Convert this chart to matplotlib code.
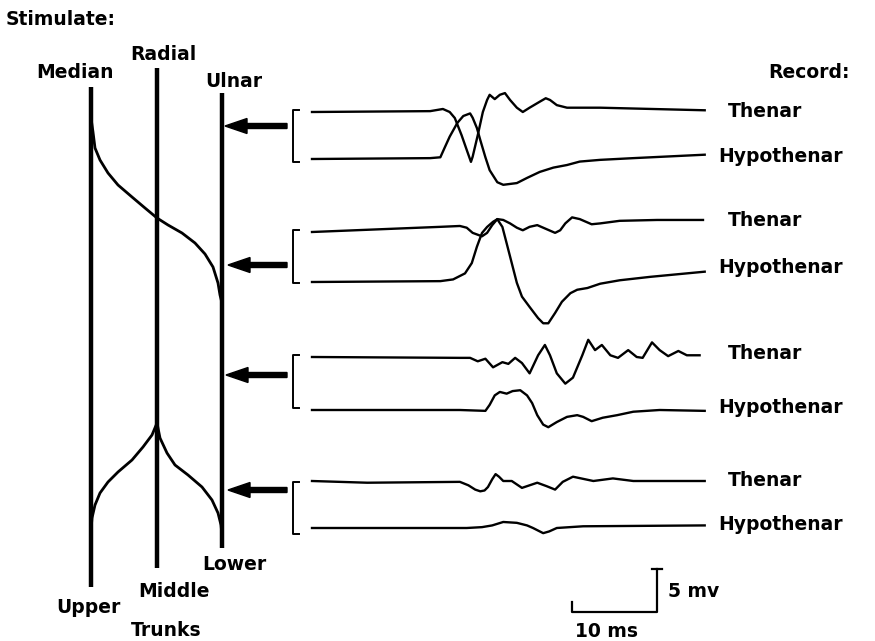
import numpy as np
import matplotlib.pyplot as plt

# Nerve diagram (left): pixel positions of the three cords
nerve_names = ["Median", "Radial", "Ulnar"]
nerve_x = [91, 157, 222]
nerve_top = [87, 68, 93]
nerve_bottom = [587, 568, 548]

# upper trunk fibres crossing from median to ulnar
s_curve_x = [91, 92, 93, 95, 100, 108, 118, 132, 145, 157, 168, 182, 195, 205, 213, 218, 220, 222]
s_curve_y = [118, 125, 132, 148, 160, 173, 185, 197, 208, 218, 225, 233, 243, 254, 267, 283, 295, 303]
# lower branches leaving the radial cord
left_branch_x = [157, 152, 143, 132, 118, 108, 100, 95, 92, 91]
left_branch_y = [423, 435, 447, 460, 472, 482, 493, 505, 518, 530]
right_branch_x = [157, 160, 167, 175, 188, 202, 212, 218, 221, 222]
right_branch_y = [423, 438, 453, 465, 475, 487, 500, 513, 525, 535]

# stimulation arrows (tip x, y)
arrow_tip_x = [225, 228, 226, 228]
arrow_y = [126, 265, 375, 490]

# recording brackets (top, bottom)
bracket_top = [110, 230, 355, 482]
bracket_bottom = [162, 283, 408, 534]

# Recorded traces: time (ms) and amplitude (mV)
th1_t = [0, 13.9, 15.4, 16.2, 16.8, 17.6, 18.2, 18.7, 18.9, 19.5, 20.1, 20.6, 20.9, 21.5, 22.1, 22.7,
         23.3, 24.1, 24.8, 25.6, 26.8, 27.5, 28.0, 28.8, 30.0, 33.9, 46.2]
th1_v = [0, 0.1, 0.35, 0, -0.7, -2.7, -4.4, -5.8, -5.2, -2.7, 0, 1.4, 2.0, 1.5, 2.0, 2.2,
         1.4, 0.5, 0, 0.5, 1.2, 1.6, 1.4, 0.8, 0.5, 0.5, 0.2]
hy1_t = [0, 13.9, 15.1, 15.6, 16.2, 17.1, 17.8, 18.6, 18.9, 19.4, 19.8, 20.4, 20.9, 21.8, 22.5,
         24.1, 25.3, 26.8, 28.4, 30.0, 31.5, 33.9, 37.8, 46.2]
hy1_v = [0, 0.1, 0.2, 1.3, 2.6, 4.2, 5.0, 5.3, 4.8, 3.6, 2.2, 0.2, -1.3, -2.7, -3.0,
         -2.8, -2.2, -1.5, -1.0, -0.7, -0.3, -0.1, 0.1, 0.5]

th2_t = [0, 15.1, 17.4, 18.2, 18.9, 20.0, 20.6, 21.2, 21.8, 22.5, 23.3, 24.1, 24.8, 25.6, 26.5,
         27.2, 28.6, 29.2, 29.8, 30.6, 31.5, 32.9, 33.9, 36.2, 40.6, 46.0]
th2_v = [0, 0.6, 0.7, 0.5, -0.1, -0.5, -0.1, 0.8, 1.5, 1.4, 1.0, 0.5, 0.2, 0.6, 0.8,
         0.5, -0.1, 0.2, 1.0, 1.7, 1.5, 0.9, 1.0, 1.3, 1.4, 1.4]
hy2_t = [0, 15.1, 16.6, 18.0, 18.8, 19.4, 20.0, 20.6, 21.3, 21.8, 22.4, 22.9, 23.5, 24.1, 24.7,
         25.6, 26.6, 27.2, 27.8, 28.6, 29.4, 30.4, 31.2, 32.4, 33.9, 36.2, 39.8, 46.2]
hy2_v = [0, 0.1, 0.3, 1.0, 2.2, 4.1, 5.7, 6.4, 7.0, 7.3, 6.4, 4.5, 2.2, -0.1, -1.7,
         -2.9, -4.2, -4.8, -4.8, -3.6, -2.3, -1.3, -0.9, -0.7, -0.2, 0.2, 0.6, 1.2]

th3_t = [0, 17.4, 18.6, 19.5, 20.4, 21.3, 22.4, 23.1, 23.9, 24.7, 25.6, 26.6, 27.4, 28.0, 28.8,
         29.8, 30.7, 31.8, 32.5, 33.3, 34.1, 35.1, 36.0, 37.2, 38.2, 38.9, 40.0, 40.9, 41.9,
         43.1, 44.1, 45.6]
th3_v = [0, -0.1, -0.1, -0.5, -0.2, -1.2, -0.6, -0.8, -0.1, -0.7, -1.9, 0.2, 1.4, 0.2, -1.9,
         -3.1, -2.4, 0.2, 2.0, 0.8, 1.4, 0.2, -0.1, 0.8, 0, -0.1, 1.7, 0.8, 0.1,
         0.7, 0.2, 0.2]
hy3_t = [0, 17.4, 20.4, 20.9, 21.5, 22.1, 22.9, 23.6, 24.5, 25.3, 25.9, 26.5, 27.2, 27.8, 28.8,
         30.0, 31.2, 31.9, 32.9, 34.2, 35.9, 37.8, 40.9, 46.2]
hy3_v = [0, 0, -0.1, 0.6, 1.7, 2.1, 1.9, 2.2, 2.3, 1.7, 0.8, -0.6, -1.7, -2.0, -1.4,
         -0.8, -0.6, -0.8, -1.3, -0.9, -0.6, -0.2, 0, -0.1]

th4_t = [0, 6.5, 17.4, 18.4, 19.2, 19.8, 20.3, 20.7, 21.2, 21.6, 22.0, 22.5, 23.5, 24.1, 24.7,
         25.6, 26.5, 27.6, 28.6, 29.0, 29.5, 30.7, 33.1, 35.4, 37.8, 46.2]
th4_v = [0, -0.2, -0.1, -0.5, -1.0, -1.2, -1.1, -0.7, 0.2, 0.8, 0.5, 0, 0, -0.4, -0.8,
         -0.5, -0.2, -0.6, -1.0, -0.6, -0.1, 0.5, 0, 0.3, 0, 0]
hy4_t = [0, 18.2, 20.0, 21.2, 22.5, 24.1, 25.3, 26.0, 26.6, 27.2, 27.9, 28.8, 31.9, 46.2]
hy4_v = [0, 0, 0.1, 0.3, 0.7, 0.6, 0.3, 0, -0.3, -0.6, -0.4, 0, 0.2, 0.3]

thenar_traces = [(th1_t, th1_v), (th2_t, th2_v), (th3_t, th3_v), (th4_t, th4_v)]
hypo_traces = [(hy1_t, hy1_v), (hy2_t, hy2_v), (hy3_t, hy3_v), (hy4_t, hy4_v)]
thenar_base = [112, 232, 357, 481]
hypo_base = [159, 282, 410, 528]
thenar_label_y = [117, 226, 359, 486]
hypo_label_y = [162, 273, 413, 530]

# scale: pixels per ms and per mV
trace_x0 = 312
px_per_ms = 8.5
px_per_mv = 8.6

fig = plt.figure(figsize=(8.75, 6.41), dpi=100)
ax = fig.add_axes([0, 0, 1, 1])
ax.set_xlim(0, 875)
ax.set_ylim(641, 0)
ax.axis("off")

font = dict(family="DejaVu Sans", fontweight="bold", fontsize=13.5, color="black")

# cords
for x, top, bot in zip(nerve_x, nerve_top, nerve_bottom):
    ax.plot([x, x], [top, bot], color="black", linewidth=3.2, solid_capstyle="butt")

for cx, cy in [(s_curve_x, s_curve_y), (left_branch_x, left_branch_y), (right_branch_x, right_branch_y)]:
    ax.plot(cx, cy, color="black", linewidth=2, solid_joinstyle="round")

# arrows
for tip, y in zip(arrow_tip_x, arrow_y):
    ax.arrow(287, y, tip - 287, 0, width=5, head_width=15, head_length=22,
             length_includes_head=True, color="black")

# brackets
for top, bot in zip(bracket_top, bracket_bottom):
    ax.plot([299, 293, 293, 299], [top, top, bot, bot], color="black", linewidth=1.4)

# traces
def to_px(t, v, base):
    return trace_x0 + np.array(t) * px_per_ms, base - np.array(v) * px_per_mv

for (t, v), base in zip(thenar_traces + hypo_traces, thenar_base + hypo_base):
    x, y = to_px(t, v, base)
    ax.plot(x, y, color="black", linewidth=1.7, solid_joinstyle="round")

for y in thenar_label_y:
    ax.text(728, y, "Thenar", va="baseline", ha="left", **font)
for y in hypo_label_y:
    ax.text(718, y, "Hypothenar", va="baseline", ha="left", **font)

# scale bar: 10 ms by 5 mV
sx, sy = 572, 612
ax.plot([sx, sx, sx + 10 * px_per_ms, sx + 10 * px_per_ms],
        [sy - 10, sy, sy, sy - 5 * px_per_mv], color="black", linewidth=1.6)
ax.plot([sx + 10 * px_per_ms - 5, sx + 10 * px_per_ms + 5],
        [sy - 5 * px_per_mv] * 2, color="black", linewidth=1.6)
ax.text(668, 597, "5 mv", va="baseline", ha="left", **font)
ax.text(575, 637, "10 ms", va="baseline", ha="left", **font)

# labels
ax.text(6, 25, "Stimulate:", va="baseline", ha="left", **font)
ax.text(36, 78, "Median", va="baseline", ha="left", **font)
ax.text(130, 60, "Radial", va="baseline", ha="left", **font)
ax.text(205, 87, "Ulnar", va="baseline", ha="left", **font)
ax.text(768, 78, "Record:", va="baseline", ha="left", **font)
ax.text(202, 570, "Lower", va="baseline", ha="left", **font)
ax.text(138, 597, "Middle", va="baseline", ha="left", **font)
ax.text(56, 613, "Upper", va="baseline", ha="left", **font)
ax.text(131, 636, "Trunks", va="baseline", ha="left", **font)

fig.savefig("out.png", dpi=100)
